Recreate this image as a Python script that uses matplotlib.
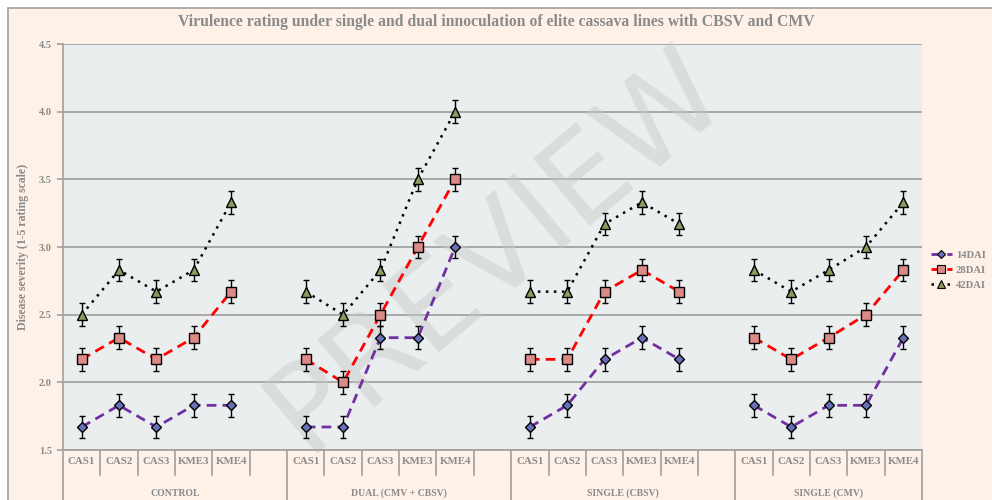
import numpy as np
import matplotlib
matplotlib.use("Agg")
import matplotlib.pyplot as plt
from matplotlib.patches import Rectangle
import matplotlib.transforms as mtransforms

plt.rcParams['font.family'] = ['Liberation Serif', 'DejaVu Serif']

# data
groups = ["CONTROL", "DUAL (CMV + CBSV)", "SINGLE (CBSV)", "SINGLE (CMV)"]
lines = ["CAS1", "CAS2", "CAS3", "KME3", "KME4"]

dai14 = [[1.67, 1.83, 1.67, 1.83, 1.83],
         [1.67, 1.67, 2.33, 2.33, 3.00],
         [1.67, 1.83, 2.17, 2.33, 2.17],
         [1.83, 1.67, 1.83, 1.83, 2.33]]
dai28 = [[2.17, 2.33, 2.17, 2.33, 2.67],
         [2.17, 2.00, 2.50, 3.00, 3.50],
         [2.17, 2.17, 2.67, 2.83, 2.67],
         [2.33, 2.17, 2.33, 2.50, 2.83]]
dai42 = [[2.50, 2.83, 2.67, 2.83, 3.33],
         [2.67, 2.50, 2.83, 3.50, 4.00],
         [2.67, 2.67, 3.17, 3.33, 3.17],
         [2.83, 2.67, 2.83, 3.00, 3.33]]
err = 0.083

series_names = ["14DAI", "28DAI", "42DAI"]

grey = "#8a8a8a"
peach = "#fdf1e8"

# x positions: 5 lines per group + 1 blank slot between groups
def flat(vals):
    out = []
    for g, v in enumerate(vals):
        out += list(v)
        if g < len(vals) - 1:
            out.append(np.nan)
    return np.array(out)

n_slots = len(groups) * (len(lines) + 1) - 1
x = np.arange(n_slots)

fig = plt.figure(figsize=(9.92, 5.0), dpi=100, facecolor="white")
fig.patches.append(Rectangle((8 / 992, -0.2), 1.2, 1.2 - 8 / 500,
                             transform=fig.transFigure, facecolor=peach,
                             edgecolor="#a0a0a0", linewidth=1.2, zorder=-10))

ax = fig.add_axes([63 / 992, 50 / 500, 859 / 992, 406 / 500])
ax.set_facecolor("#eaeeef")

styles = [
    dict(color="#7030a0", ls=(0, (3.5, 2.2)), marker="D", ms=5.5, mfc="#6870b8"),
    dict(color="#ff0000", ls=(0, (3.5, 2.2)), marker="s", ms=7.5, mfc="#dc8a86"),
    dict(color="black", ls=(0, (1, 2.2)), marker="^", ms=7.5, mfc="#8c9a60"),
]
handles = []
for vals, name, st in zip([dai14, dai28, dai42], series_names, styles):
    y = flat(vals)
    lw = 2 if st["color"] != "black" else 1.8
    ax.errorbar(x, y, yerr=err, fmt="none", ecolor="black", elinewidth=1,
                capsize=2.5, capthick=1, zorder=3)
    ax.plot(x, y, color=st["color"], ls=st["ls"], lw=lw, zorder=4)
    ax.plot(x, y, ls="none", marker=st["marker"], ms=st["ms"], mfc=st["mfc"],
            mec="black", mew=1, zorder=5)
    handles.append(plt.Line2D([], [], color=st["color"], ls=st["ls"], lw=lw,
                              marker=st["marker"], ms=st["ms"] - 1.5,
                              mfc=st["mfc"], mec="black", mew=0.8))

ax.set_xlim(-0.5, n_slots - 0.5)
ax.set_ylim(1.5, 4.5)
yt = np.arange(1.5, 4.51, 0.5)
ax.set_yticks(yt)
ax.set_yticklabels([f"{v:.1f}" for v in yt], fontsize=7.5,
                   fontweight="bold", color=grey)
ax.yaxis.grid(True, color="#a9a9a9", lw=1.4)
ax.set_axisbelow(True)
ax.set_xticks([])
ax.tick_params(axis="y", length=4, color="#a0a0a0", width=1.2, pad=4)
for s in ["top", "right"]:
    ax.spines[s].set_visible(False)
for s in ["left", "bottom"]:
    ax.spines[s].set_color("#a0a0a0")
    ax.spines[s].set_linewidth(1.2)

ax.set_ylabel("Disease severity (1-5 rating scale)", fontsize=8.5,
              fontweight="bold", color=grey, labelpad=7)

# category labels and separators under the axis
trans = mtransforms.blended_transform_factory(ax.transData, ax.transAxes)
short = -25 / 406
full = -60 / 406
slot = 0
for g, gname in enumerate(groups):
    start = slot
    for name in lines:
        ax.text(slot, -12 / 406, name, transform=trans, ha="center", va="center",
                fontsize=7.8, fontweight="bold", color=grey)
        slot += 1
    end = slot if g < len(groups) - 1 else slot - 1
    ax.text((start + end) / 2, -43 / 406, gname, transform=trans, ha="center",
            va="center", fontsize=7, fontweight="bold", color=grey)
    slot += 1

for k in range(n_slots + 1):
    xb = k - 0.5
    y0 = full if k in (0, 6, 12, 18, n_slots) else short
    ax.plot([xb, xb], [0, y0], transform=trans, color="#a0a0a0", lw=1.2,
            clip_on=False)

fig.text(0.5, 1 - 22 / 500,
         "Virulence rating under single and dual innoculation of elite cassava lines with CBSV and CMV",
         ha="center", va="center", fontsize=11.3, fontweight="bold", color=grey)

fig.legend(handles=handles, labels=series_names, loc="center left",
           bbox_to_anchor=(921 / 992, 1 - 270 / 500), frameon=False,
           handlelength=2.0, handletextpad=0.4, labelspacing=0.55,
           labelcolor=grey, prop=dict(weight="bold", size=7.6))

# faint watermark behind the data
ax.text(0.5, 0.5, "PREVIEW", transform=fig.transFigure, rotation=40,
        ha="center", va="center", fontsize=88, color="#c8c8c8", alpha=0.45,
        family="DejaVu Sans", zorder=1.5, clip_on=False)

fig.savefig("out.png", dpi=100, facecolor="white")
